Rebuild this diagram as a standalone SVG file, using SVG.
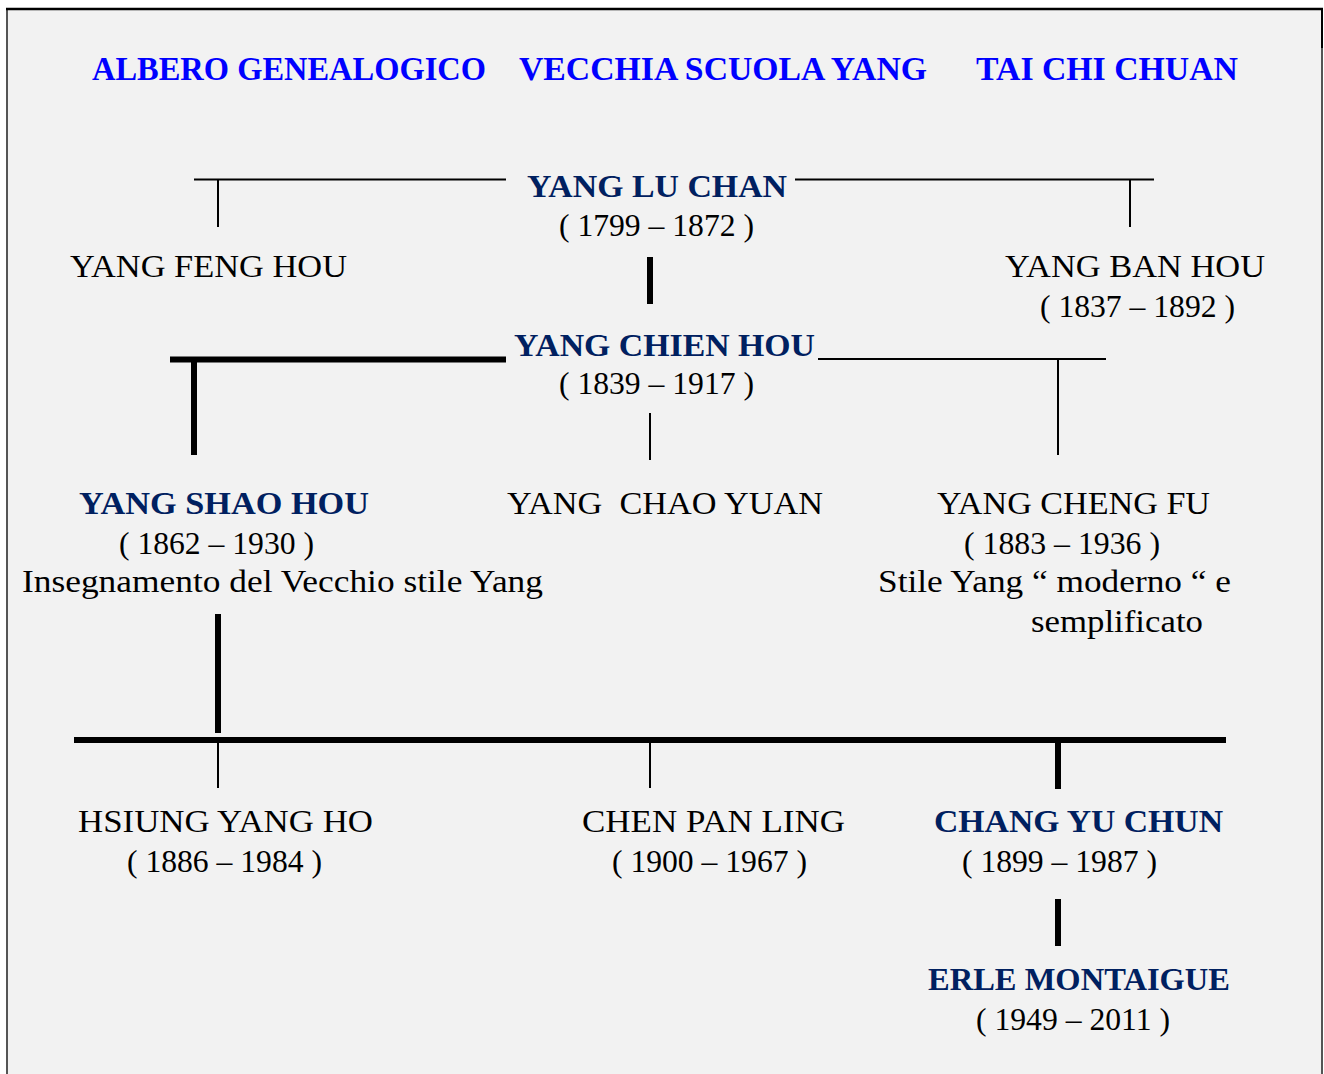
<svg xmlns="http://www.w3.org/2000/svg" width="1324" height="1074" viewBox="0 0 1324 1074">
<style>
.t{font-family:"Liberation Serif","DejaVu Serif",serif;font-size:31px;fill:#000}
.b{font-family:"Liberation Serif","DejaVu Serif",serif;font-size:32px;font-weight:bold;fill:#002060}
.h{font-family:"Liberation Serif","DejaVu Serif",serif;font-size:34px;font-weight:bold;fill:#0000ff}
.thin{stroke:#000;stroke-width:2;fill:none}
.thick{stroke:#000;stroke-width:6;fill:none}
</style>
<rect x="0" y="0" width="1324" height="1074" fill="#ffffff"/>
<rect x="7" y="9" width="1315" height="1070" fill="#f2f2f2" stroke="#555555" stroke-width="2"/>
<line x1="6" y1="9" x2="1323" y2="9" stroke="#000" stroke-width="2.5"/>
<line x1="1322" y1="9" x2="1322" y2="48" stroke="#000" stroke-width="2"/>

<g id="title">
<text class="h" x="92" y="80" textLength="394" lengthAdjust="spacingAndGlyphs">ALBERO GENEALOGICO</text>
<text class="h" x="519" y="80" textLength="408" lengthAdjust="spacingAndGlyphs">VECCHIA SCUOLA YANG</text>
<text class="h" x="976" y="80" textLength="262" lengthAdjust="spacingAndGlyphs">TAI CHI CHUAN</text>
</g>

<g id="connectors">
<line class="thin" x1="194" y1="179.5" x2="506" y2="179.5"/>
<line class="thin" x1="795" y1="179.5" x2="1154" y2="179.5"/>
<line class="thin" x1="218" y1="180" x2="218" y2="227"/>
<line class="thin" x1="1130" y1="180" x2="1130" y2="227"/>
<line class="thick" x1="650" y1="257" x2="650" y2="304" stroke-width="5"/>
<line class="thick" x1="170" y1="359.5" x2="506" y2="359.5"/>
<line class="thick" x1="194" y1="362" x2="194" y2="455"/>
<line class="thin" x1="818" y1="359" x2="1106" y2="359"/>
<line class="thin" x1="1058" y1="359" x2="1058" y2="455"/>
<line class="thin" x1="650" y1="413" x2="650" y2="460"/>
<line class="thick" x1="218" y1="614" x2="218" y2="733" stroke-width="5"/>
<line class="thick" x1="74" y1="740" x2="1226" y2="740"/>
<line class="thin" x1="218" y1="743" x2="218" y2="788"/>
<line class="thin" x1="650" y1="743" x2="650" y2="788"/>
<line class="thick" x1="1058" y1="743" x2="1058" y2="789"/>
<line class="thick" x1="1058" y1="899" x2="1058" y2="946"/>
</g>

<g id="yang-lu-chan">
<text class="b" x="527" y="197" textLength="260" lengthAdjust="spacingAndGlyphs">YANG LU CHAN</text>
<text class="t" x="559" y="236" textLength="195" lengthAdjust="spacingAndGlyphs">( 1799 – 1872 )</text>
</g>
<g id="yang-feng-hou">
<text class="t" x="70" y="277" textLength="277" lengthAdjust="spacingAndGlyphs">YANG FENG HOU</text>
</g>
<g id="yang-ban-hou">
<text class="t" x="1005" y="277" textLength="260" lengthAdjust="spacingAndGlyphs">YANG BAN HOU</text>
<text class="t" x="1040" y="317" textLength="195" lengthAdjust="spacingAndGlyphs">( 1837 – 1892 )</text>
</g>
<g id="yang-chien-hou">
<text class="b" x="514" y="356" textLength="301" lengthAdjust="spacingAndGlyphs">YANG CHIEN HOU</text>
<text class="t" x="559" y="394" textLength="195" lengthAdjust="spacingAndGlyphs">( 1839 – 1917 )</text>
</g>
<g id="yang-shao-hou">
<text class="b" x="79" y="514" textLength="290" lengthAdjust="spacingAndGlyphs">YANG SHAO HOU</text>
<text class="t" x="119" y="554" textLength="195" lengthAdjust="spacingAndGlyphs">( 1862 – 1930 )</text>
<text class="t" x="22" y="592" textLength="521" lengthAdjust="spacingAndGlyphs">Insegnamento del Vecchio stile Yang</text>
</g>
<g id="yang-chao-yuan">
<text class="t" x="507" y="514" textLength="316" lengthAdjust="spacingAndGlyphs" xml:space="preserve">YANG  CHAO YUAN</text>
</g>
<g id="yang-cheng-fu">
<text class="t" x="937" y="514" textLength="273" lengthAdjust="spacingAndGlyphs">YANG CHENG FU</text>
<text class="t" x="964" y="554" textLength="196" lengthAdjust="spacingAndGlyphs">( 1883 – 1936 )</text>
<text class="t" x="878" y="592" textLength="353" lengthAdjust="spacingAndGlyphs">Stile Yang “ moderno “ e</text>
<text class="t" x="1031" y="632" textLength="172" lengthAdjust="spacingAndGlyphs">semplificato</text>
</g>
<g id="hsiung-yang-ho">
<text class="t" x="78" y="832" textLength="295" lengthAdjust="spacingAndGlyphs">HSIUNG YANG HO</text>
<text class="t" x="127" y="872" textLength="195" lengthAdjust="spacingAndGlyphs">( 1886 – 1984 )</text>
</g>
<g id="chen-pan-ling">
<text class="t" x="582" y="832" textLength="263" lengthAdjust="spacingAndGlyphs">CHEN PAN LING</text>
<text class="t" x="612" y="872" textLength="195" lengthAdjust="spacingAndGlyphs">( 1900 – 1967 )</text>
</g>
<g id="chang-yu-chun">
<text class="b" x="934" y="832" textLength="289" lengthAdjust="spacingAndGlyphs">CHANG YU CHUN</text>
<text class="t" x="962" y="872" textLength="195" lengthAdjust="spacingAndGlyphs">( 1899 – 1987 )</text>
</g>
<g id="erle-montaigue">
<text class="b" x="928" y="990" textLength="302" lengthAdjust="spacingAndGlyphs">ERLE MONTAIGUE</text>
<text class="t" x="976" y="1030" textLength="194" lengthAdjust="spacingAndGlyphs">( 1949 – 2011 )</text>
</g>
</svg>
